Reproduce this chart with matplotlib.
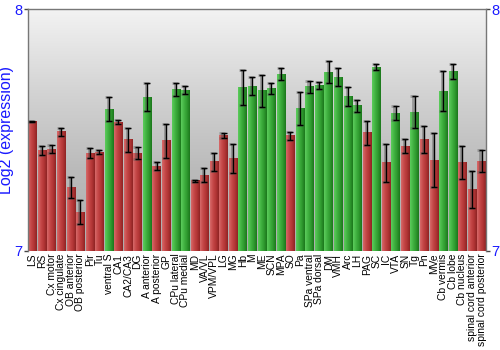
import numpy as np
import matplotlib
matplotlib.use("Agg")
import matplotlib.pyplot as plt
from matplotlib.colors import LinearSegmentedColormap

regions = [
    "LS", "RS", "Cx motor", "Cx cingulate", "OB anterior", "OB posterior",
    "Pir", "Tu", "ventral S", "CA1", "CA2/CA3", "DG", "A anterior",
    "A posterior", "GP", "CPu lateral", "CPu medial", "MD", "VA/VL",
    "VPM/VPL", "LG", "MG", "Hb", "M", "ME", "SCN", "MPA", "SO", "Pa",
    "SPa ventral", "SPa dorsal", "DM", "VMH", "Arc", "LH", "PAG", "SC",
    "IC", "VTA", "SN", "Tg", "Pn", "MVe", "Cb vermis", "Cb lobe",
    "Cb nucleus", "spinal cord anterior", "spinal cord posterior",
]
log2_expr = [
    7.537, 7.417, 7.421, 7.493, 7.264, 7.161, 7.405, 7.409, 7.586, 7.533,
    7.459, 7.405, 7.635, 7.351, 7.455, 7.668, 7.665, 7.290, 7.314, 7.368,
    7.478, 7.384, 7.676, 7.682, 7.662, 7.671, 7.731, 7.476, 7.590, 7.679,
    7.683, 7.740, 7.718, 7.639, 7.600, 7.488, 7.760, 7.365, 7.570, 7.434,
    7.574, 7.459, 7.376, 7.661, 7.741, 7.365, 7.253, 7.372,
]
sem = [
    0.002, 0.019, 0.018, 0.017, 0.043, 0.050, 0.021, 0.008, 0.049, 0.008,
    0.048, 0.023, 0.058, 0.015, 0.070, 0.028, 0.016, 0.003, 0.027, 0.038,
    0.011, 0.060, 0.073, 0.039, 0.067, 0.023, 0.026, 0.017, 0.069, 0.024,
    0.014, 0.044, 0.037, 0.040, 0.026, 0.051, 0.011, 0.078, 0.028, 0.028,
    0.067, 0.056, 0.111, 0.083, 0.032, 0.067, 0.076, 0.045,
]
# G = enriched (green), R = not enriched (red)
group = list("RRRRRRRRGRRRGRRGGRRRRRGGGGGRGGGGGGGRGRGRGRRGGRRR")

ymin, ymax = 7, 8

red_cmap = LinearSegmentedColormap.from_list(
    "red_bar", ["#d66a6a", "#c64848", "#b23636", "#8e2424"])
green_cmap = LinearSegmentedColormap.from_list(
    "green_bar", ["#5ccc5c", "#43b443", "#2f9a2f", "#1c771c"])
bg_cmap = LinearSegmentedColormap.from_list(
    "bg", ["#f3f3f3", "#d4d4d4", "#bababa", "#adadad"])

fig = plt.figure(figsize=(5, 3.5), dpi=100)
ax = fig.add_axes([0.056, 0.283, 0.916, 0.691])

x = np.arange(len(regions))
width = 0.88
xlim = (-0.5 + (1 - width) / 2 - 0.03, len(regions) - 0.5 - (1 - width) / 2 + 0.03)

# vertical background gradient, light at the top
grad = np.linspace(1, 0, 256).reshape(-1, 1)
ax.imshow(grad, extent=(xlim[0], xlim[1], ymin, ymax),
          cmap=bg_cmap, aspect="auto", zorder=0, origin="lower")

# bars with a horizontal shading gradient
hgrad = np.linspace(0, 1, 64).reshape(1, -1)
for xi, val, g in zip(x, log2_expr, group):
    cmap = green_cmap if g == "G" else red_cmap
    ax.imshow(hgrad, extent=(xi - width / 2, xi + width / 2, ymin, val),
              cmap=cmap, aspect="auto", zorder=2, origin="lower")

# error bars: soft grey shadow under a thin black line
ax.errorbar(x - 0.12, log2_expr, yerr=sem, fmt="none", ecolor="#555555",
            elinewidth=2.0, capsize=2.5, capthick=2.0, alpha=0.45, zorder=3)
ax.errorbar(x, log2_expr, yerr=sem, fmt="none", ecolor="black",
            elinewidth=1.0, capsize=2.5, capthick=1.0, zorder=4)

ax.set_xlim(*xlim)
ax.set_ylim(ymin, ymax)

ax.set_xticks(x)
ax.set_xticklabels(regions, rotation=90, fontsize=7.4, family="Liberation Sans",
                   va="top", ha="center")
ax.tick_params(axis="x", length=0, pad=2)

ax.set_yticks([7, 8])
ax.set_yticklabels(["7", "8"])
ax.tick_params(axis="y", which="both", left=True, right=True, labelleft=True,
               labelright=True, length=3, width=1, color="#444444",
               labelcolor="#1a1aff", labelsize=10.5, pad=1)
for lbl in ax.get_yticklabels():
    lbl.set_family("Liberation Sans")
ax.set_ylabel("Log2 (expression)", color="#1a1aff", fontsize=11.5,
              family="Liberation Sans", labelpad=0)

for side in ("left", "right", "top"):
    ax.spines[side].set_color("#777777")
    ax.spines[side].set_linewidth(1.0)
ax.spines["bottom"].set_visible(False)

fig.savefig("out.png", dpi=100)
